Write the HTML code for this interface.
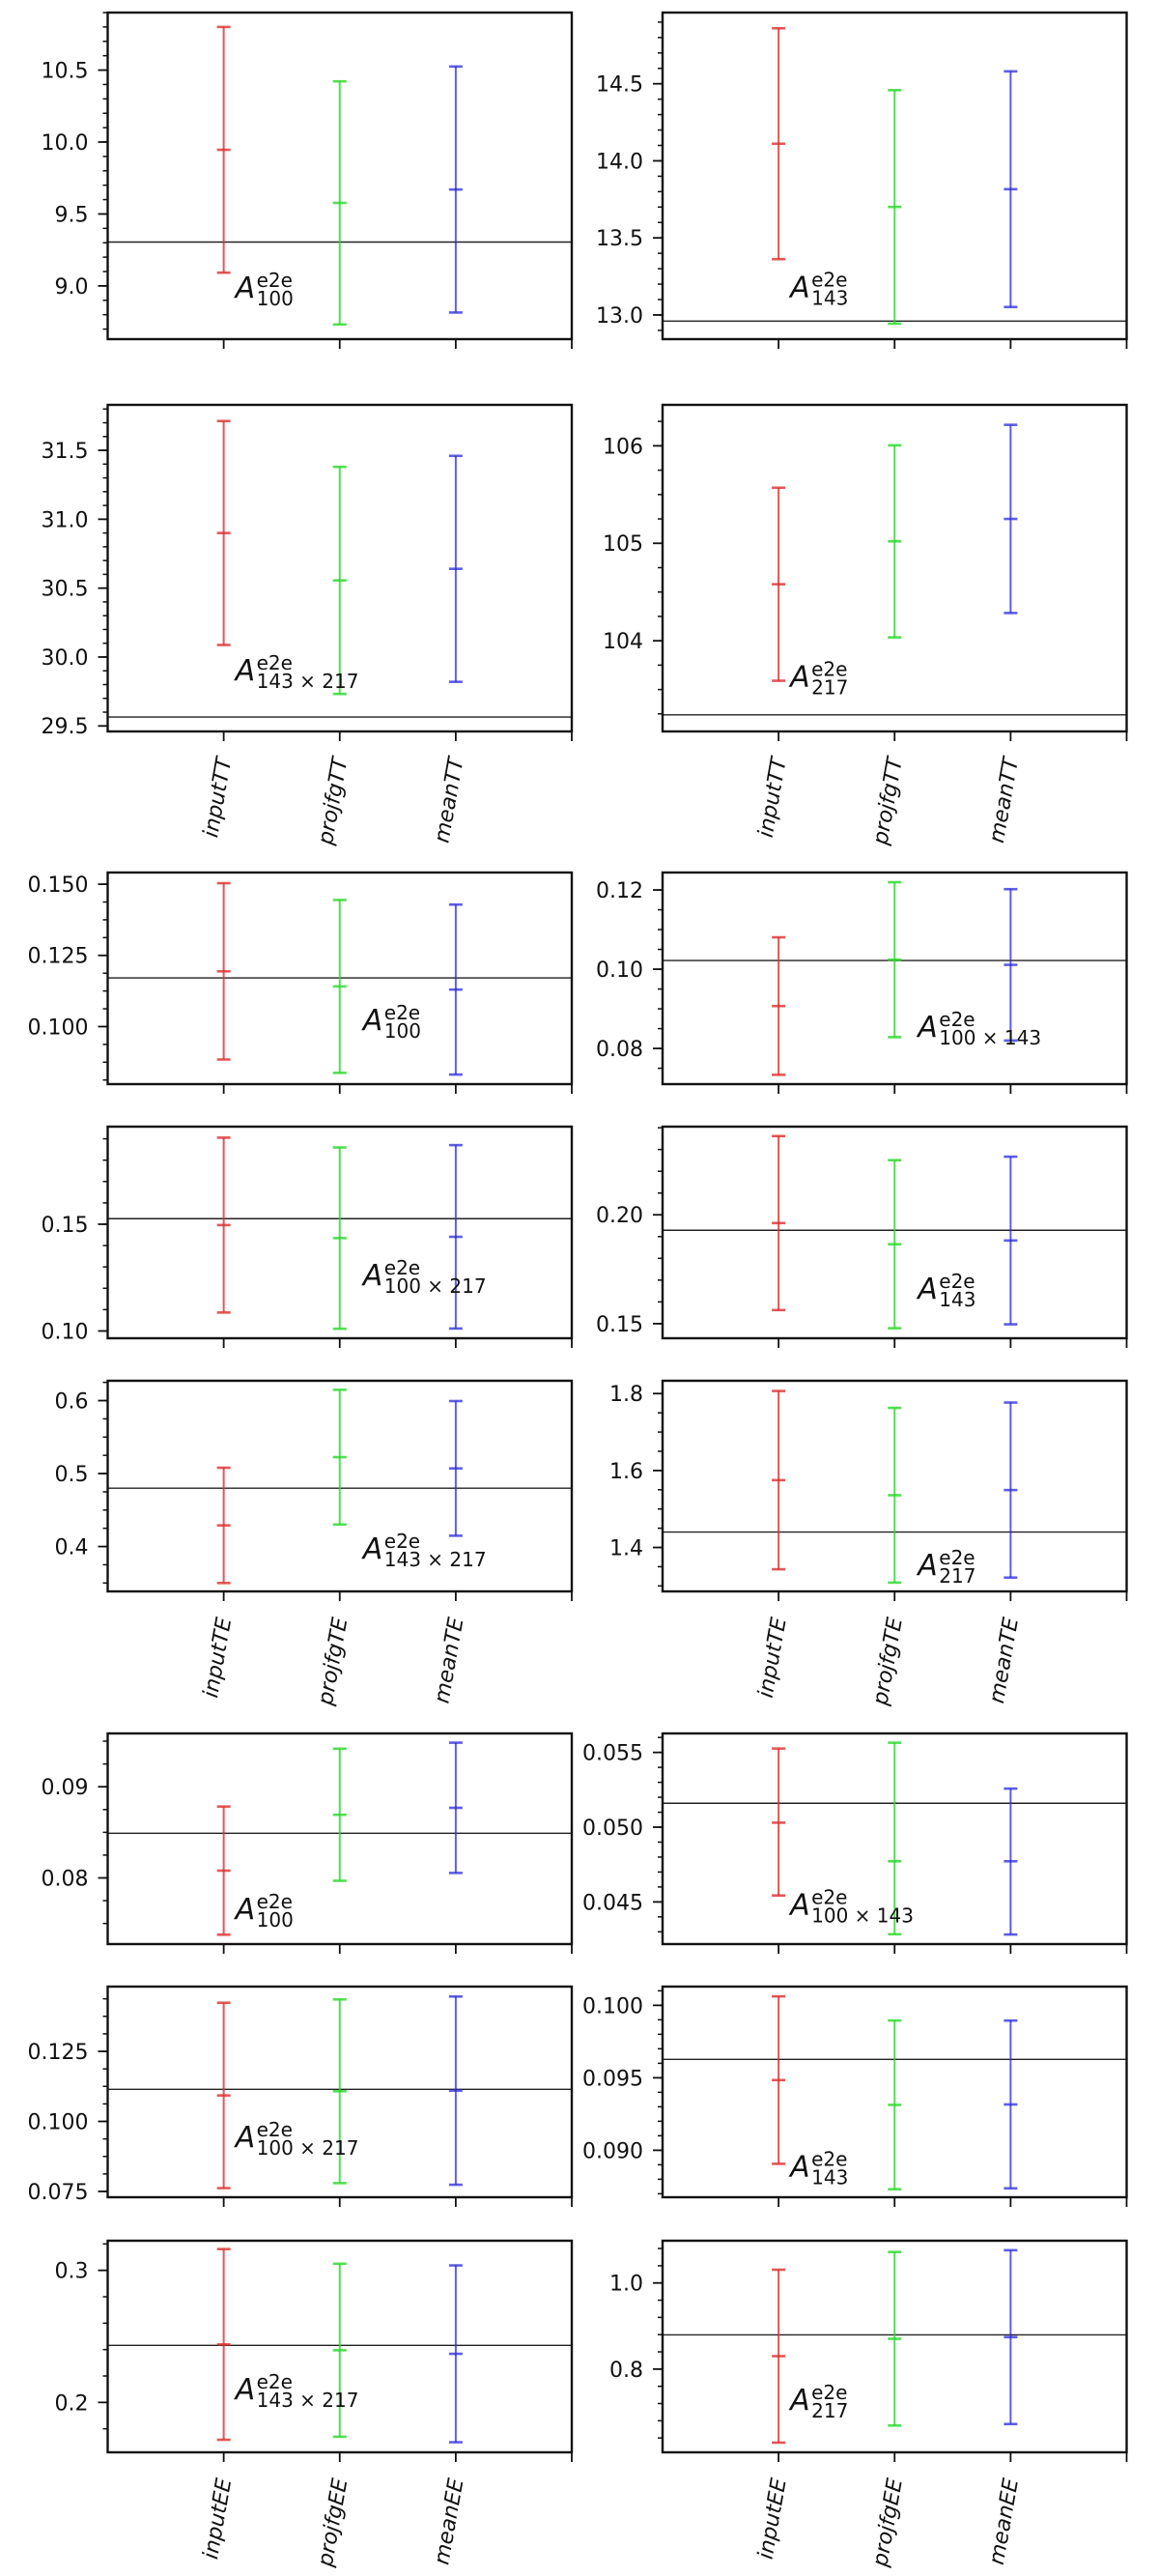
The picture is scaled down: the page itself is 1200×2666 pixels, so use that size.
<!DOCTYPE html>
<html><head><meta charset="utf-8"><title>Error bar panels</title>
<style>html,body{margin:0;padding:0;background:#fff}svg{display:block}</style></head>
<body>
<svg id="fig" xmlns="http://www.w3.org/2000/svg" width="1200" height="2666" viewBox="0 0 1200 2666" font-family="DejaVu Sans, Liberation Sans, sans-serif"></svg>
<script>
// ---- data (one entry per panel, row-major: left, right) ----
const panelNames = ['tt-100','tt-143','tt-143x217','tt-217','te-100','te-100x143','te-100x217','te-143','te-143x217','te-217','ee-100','ee-100x143','ee-100x217','ee-143','ee-143x217','ee-217'];
const categoriesTT = ['inputTT','projfgTT','meanTT'];
const categoriesTE = ['inputTE','projfgTE','meanTE'];
const categoriesEE = ['inputEE','projfgEE','meanEE'];
const seriesMeans = [
 [9.946,9.577,9.67],[14.111,13.701,13.816],[30.90,30.556,30.64],[104.58,105.02,105.25],
 [0.1194,0.1141,0.1130],[0.0907,0.1024,0.1011],[0.1496,0.1435,0.1441],[0.1962,0.1865,0.1882],
 [0.4290,0.5225,0.5071],[1.575,1.5358,1.5492],[0.0808,0.08693,0.08769],[0.0503,0.04772,0.04772],
 [0.10927,0.11076,0.11098],[0.09484,0.09313,0.09316],[0.2439,0.2395,0.2368],[0.830,0.8704,0.8742]];
const seriesErrsHigh = [
 [0.854,0.845,0.855],[0.749,0.7575,0.7645],[0.8125,0.824,0.82],[0.99,0.985,0.965],
 [0.03095,0.03035,0.02985],[0.01735,0.01955,0.0191],[0.04095,0.04245,0.04295],[0.03995,0.0386,0.0385],
 [0.079,0.0923,0.0923],[0.2317,0.2271,0.2275],[0.00703,0.007245,0.007145],[0.00496,0.00793,0.00486],
 [0.03307,0.03278,0.033585],[0.005775,0.00582,0.005785],[0.07221,0.0655,0.06695],[0.20075,0.2015,0.20185]];
const seriesErrsLow = [
 [0.854,0.845,0.855],[0.749,0.7575,0.7645],[0.8125,0.824,0.82],[0.99,0.985,0.965],
 [0.03095,0.03035,0.02985],[0.01735,0.01955,0.0191],[0.04095,0.04245,0.04295],[0.03995,0.0386,0.0385],
 [0.079,0.0923,0.0923],[0.2317,0.2271,0.2275],[0.00703,0.007245,0.007145],[0.00487,0.00488,0.0049],
 [0.03307,0.03278,0.033585],[0.005775,0.00582,0.005785],[0.07221,0.0655,0.06695],[0.20075,0.2015,0.20185]];
const refValues = [9.305,12.96,29.565,103.24,0.1171,0.1022,0.1526,0.1929,0.4799,1.44,0.0849,0.0516,0.11144,0.09627,0.2432,0.8794];
const yDomains = [
 [8.63,10.90],[12.843,14.962],[29.46,31.83],[103.07,106.42],[0.0798,0.1541],[0.0710,0.1244],[0.0966,0.1957],[0.1433,0.2405],
 [0.3385,0.6272],[1.2858,1.8333],[0.07274,0.09585],[0.04218,0.05627],[0.07294,0.14811],[0.08676,0.10129],[0.1622,0.32244],[0.6067,1.0981]];
const majorTicks = [
 [9.0,9.5,10.0,10.5],[13.0,13.5,14.0,14.5],[29.5,30.0,30.5,31.0,31.5],[103,104,105,106],
 [0.100,0.125,0.150],[0.08,0.10,0.12],[0.10,0.15],[0.15,0.20],
 [0.4,0.5,0.6],[1.4,1.6,1.8],[0.08,0.09],[0.045,0.050,0.055],
 [0.075,0.100,0.125],[0.090,0.095,0.100],[0.2,0.3],[0.8,1.0]];
const tickDecimals = [1,1,1,0,3,2,2,2,1,1,2,3,3,3,1,1];
const showTickLabel = [[1,1,1,1],[1,1,1,1],[1,1,1,1,1],[0,1,1,1],[1,1,1],[1,1,1],[1,1],[1,1],[1,1,1],[1,1,1],[1,1],[1,1,1],[1,1,1],[1,1,1],[1,1],[1,1]];
const minorDivs = [5,5,5,4,4,4,5,5,4,4,4,5,4,5,5,5];
const labelSubs = ['100','143','143 × 217','217','100','100 × 143','100 × 217','143','143 × 217','217','100','100 × 143','100 × 217','143','143 × 217','217'];
const labelPos = [[1.1,8.92],[1.1,13.117],[1.1,29.83],[1.1,103.53],[2.2,0.0988],[2.2,0.0829],[2.2,0.1215],[2.2,0.1614],
 [2.2,0.3834],[2.2,1.329],[1.1,0.0755],[1.1,0.04416],[1.1,0.0908],[1.1,0.0882],[1.1,0.2024],[1.1,0.7049]];
const xDomain = [0,4];

// ---- layout ----
const rowTop = [13,419,903,1166,1429,1794,2056,2319];
const rowBot = [351,757,1122,1385,1647,2012,2274,2538];
const colLeft = [111.5,686];
const axW = 480.5;
const colors = ['rgba(220,45,45,0.8)','rgba(40,215,40,0.8)','rgba(40,40,220,0.75)'];
const seriesKeys = ['input','projfg','mean'];

const svg = document.getElementById('fig');
const NS = 'http://www.w3.org/2000/svg';
function mk(tag, attrs, parent){const e=document.createElementNS(NS,tag);for(const k in attrs)e.setAttribute(k,attrs[k]);(parent||svg).appendChild(e);return e;}

for(let p=0;p<16;p++){
  const row=Math.floor(p/2), col=p%2;
  const L=colLeft[col], R=L+axW, T=rowTop[row], B=rowBot[row];
  const [y0,y1]=yDomains[p];
  const sx=v=>L+(v-xDomain[0])/(xDomain[1]-xDomain[0])*axW;
  const sy=v=>B-(v-y0)/(y1-y0)*(B-T);
  const g=mk('g',{});
  
  
  const hl=mk('line',{x1:L,x2:R,y1:sy(refValues[p]),y2:sy(refValues[p]),stroke:'#222','stroke-width':1.4},g);
  
  
  for(let s=0;s<3;s++){
    const m=seriesMeans[p][s], eh=seriesErrsHigh[p][s], el=seriesErrsLow[p][s], cx=sx(s+1);
    const eb=mk('g',{stroke:colors[s],'stroke-width':2},g);
    
    
    mk('line',{x1:cx,x2:cx,y1:sy(m-el),y2:sy(m+eh)},eb);
    [m-el,m,m+eh].forEach(v=>mk('line',{x1:cx-7,x2:cx+7,y1:sy(v),y2:sy(v),'stroke-width':2.6},eb));
  }
  const fr=mk('rect',{x:L,y:T,width:axW,height:B-T,fill:'none',stroke:'#111','stroke-width':2.4},g);
  
  
  const yax=mk('g',{},g);
  
  
  const mt=majorTicks[p], step=mt[1]-mt[0], ms=step/minorDivs[p];
  let start=mt[0]-Math.ceil((mt[0]-y0)/ms)*ms;
  for(let v=start; v<=y1+1e-12; v+=ms){ if(v<y0-1e-12) continue; mk('line',{x1:L-5,x2:L,y1:sy(v),y2:sy(v),stroke:'#111','stroke-width':1.5},yax); }
  mt.forEach((v,i)=>{
    if(v<y0||v>y1) return;
    mk('line',{x1:L-10,x2:L,y1:sy(v),y2:sy(v),stroke:'#111','stroke-width':1.8},yax);
    if(showTickLabel[p][i]){
      const t=mk('text',{x:L-20,y:sy(v),dy:'0.36em','text-anchor':'end','font-size':22,fill:'#111'},yax);
      t.textContent=v.toFixed(tickDecimals[p]);
      
      
    }
  });
  const xax=mk('g',{},g);
  
  
  [1,2,3,4].forEach(v=>mk('line',{x1:sx(v),x2:sx(v),y1:B,y2:B+10,stroke:'#111','stroke-width':1.8},xax));
  if(row===1||row===4||row===7){
    const cats = row===1?categoriesTT:(row===4?categoriesTE:categoriesEE);
    cats.forEach((c,i)=>{
      const x=sx(i+1), y=B+27;
      const t=mk('text',{x:x,y:y,dy:'0.36em','text-anchor':'end','font-size':22,'font-style':'italic',fill:'#111',transform:`rotate(-80 ${x} ${y})`},xax);
      t.textContent=c;
      
      
    });
  }
  const lx=sx(labelPos[p][0]), ly=sy(labelPos[p][1]);
  const lab=mk('g',{fill:'#111'},g);
  
  
  const a=mk('text',{x:lx,y:ly,'font-size':30,'font-style':'italic'},lab); a.textContent='A';
  const sup=mk('text',{x:lx+22,y:ly-11,'font-size':20},lab); sup.textContent='e2e';
  const sub=mk('text',{x:lx+22,y:ly+8,'font-size':20},lab); sub.textContent=labelSubs[p];
}
</script>
</body></html>
